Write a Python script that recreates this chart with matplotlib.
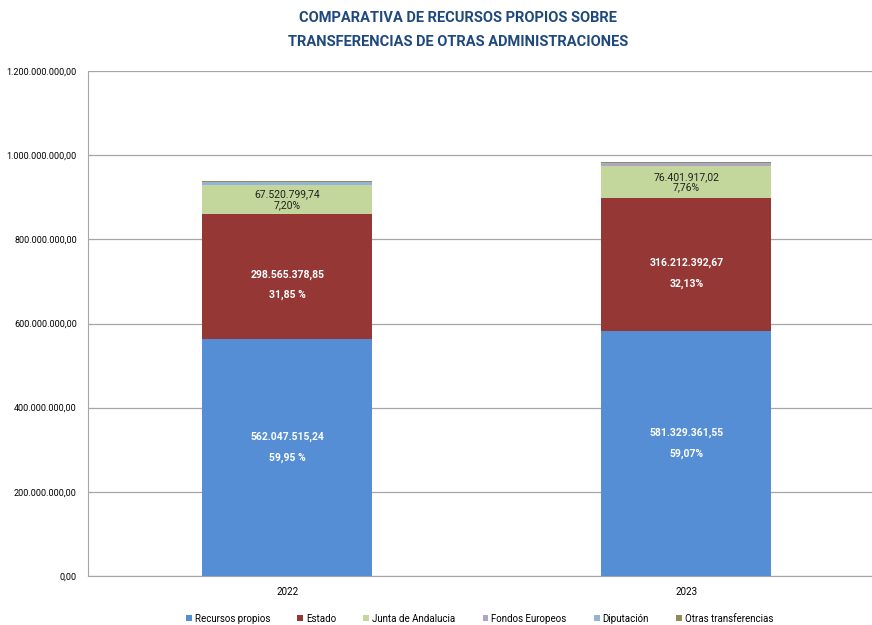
import matplotlib
matplotlib.use("Agg")
import matplotlib.pyplot as plt
import numpy as np

years = ["2022", "2023"]
series_names = ["Recursos propios", "Estado", "Junta de Andalucia",
                "Fondos Europeos", "Diputación", "Otras transferencias"]
recursos = [562047515.24, 581329361.55]
estado = [298565378.85, 316212392.67]
junta = [67520799.74, 76401917.02]
fondos = [2000000.0, 6000000.0]
diputacion = [5500000.0, 1200000.0]
otras = [1900000.0, 2900000.0]
pct_recursos = ["59,95 %", "59,07%"]
pct_estado = ["31,85 %", "32,13%"]
pct_junta = ["7,20%", "7,76%"]
yticks = [0, 200e6, 400e6, 600e6, 800e6, 1000e6, 1200e6]

colors = ["#558ED5", "#953735", "#C3D69B", "#B3A2C7", "#95B3D7", "#948A54"]

def fmt_es(v):
    s = f"{v:,.2f}"
    return s.replace(",", "X").replace(".", ",").replace("X", ".")

plt.rcParams['font.family'] = ['Roboto', 'DejaVu Sans']

fig = plt.figure(figsize=(8.72, 6.25), dpi=100)
ax = fig.add_axes([0.1009, 0.0784, 0.8991, 0.808])

x = np.arange(len(years))
w = 0.426
data = [recursos, estado, junta, fondos, diputacion, otras]
bottom = np.zeros(len(years))
for vals, name, c in zip(data, series_names, colors):
    ax.bar(x, vals, w, bottom=bottom, color=c, label=name, zorder=3)
    bottom += np.array(vals)

for i in range(len(years)):
    yc = recursos[i] / 2 + 25e6
    ax.text(x[i], yc, fmt_es(recursos[i]) + "\n\n" + pct_recursos[i], color="white",
            fontsize=7.5, fontweight="bold", ha="center", va="center", zorder=4, linespacing=1.0)
    yc = recursos[i] + estado[i] / 2 - 20e6
    ax.text(x[i], yc, fmt_es(estado[i]) + "\n\n" + pct_estado[i], color="white",
            fontsize=7.5, fontweight="bold", ha="center", va="center", zorder=4, linespacing=1.0)
    yc = recursos[i] + estado[i] + junta[i] / 2
    ax.text(x[i], yc, fmt_es(junta[i]) + "\n" + pct_junta[i], color="#222222",
            fontsize=7.5, ha="center", va="center", zorder=4, linespacing=1.1)

ax.set_xlim(-0.5, 1.465)
ax.set_ylim(0, 1200e6)
ax.set_yticks(yticks)
ax.set_yticklabels([fmt_es(v) for v in yticks], fontsize=6.5)
ax.set_xticks(x)
ax.set_xticklabels(years, fontsize=7)
ax.tick_params(axis='both', length=0, pad=8)
ax.grid(axis='y', color="#A6A6A6", linewidth=0.9, zorder=0)
for s in ["top", "right"]:
    ax.spines[s].set_visible(False)
ax.spines["left"].set_color("#A6A6A6")
ax.spines["bottom"].set_color("#A6A6A6")

fig.text(0.525, 0.972, "COMPARATIVA DE RECURSOS PROPIOS SOBRE", ha="center", va="center",
         fontsize=10.5, fontweight="bold", color="#1F497D")
fig.text(0.525, 0.933, "TRANSFERENCIAS DE OTRAS ADMINISTRACIONES", ha="center", va="center",
         fontsize=10.5, fontweight="bold", color="#1F497D")

fig.legend(loc="lower center", bbox_to_anchor=(0.55, -0.012), ncol=6, frameon=False,
           fontsize=7, handlelength=0.6, handleheight=0.6, handletextpad=0.3, columnspacing=2.8)

fig.savefig("out.png", dpi=100)
